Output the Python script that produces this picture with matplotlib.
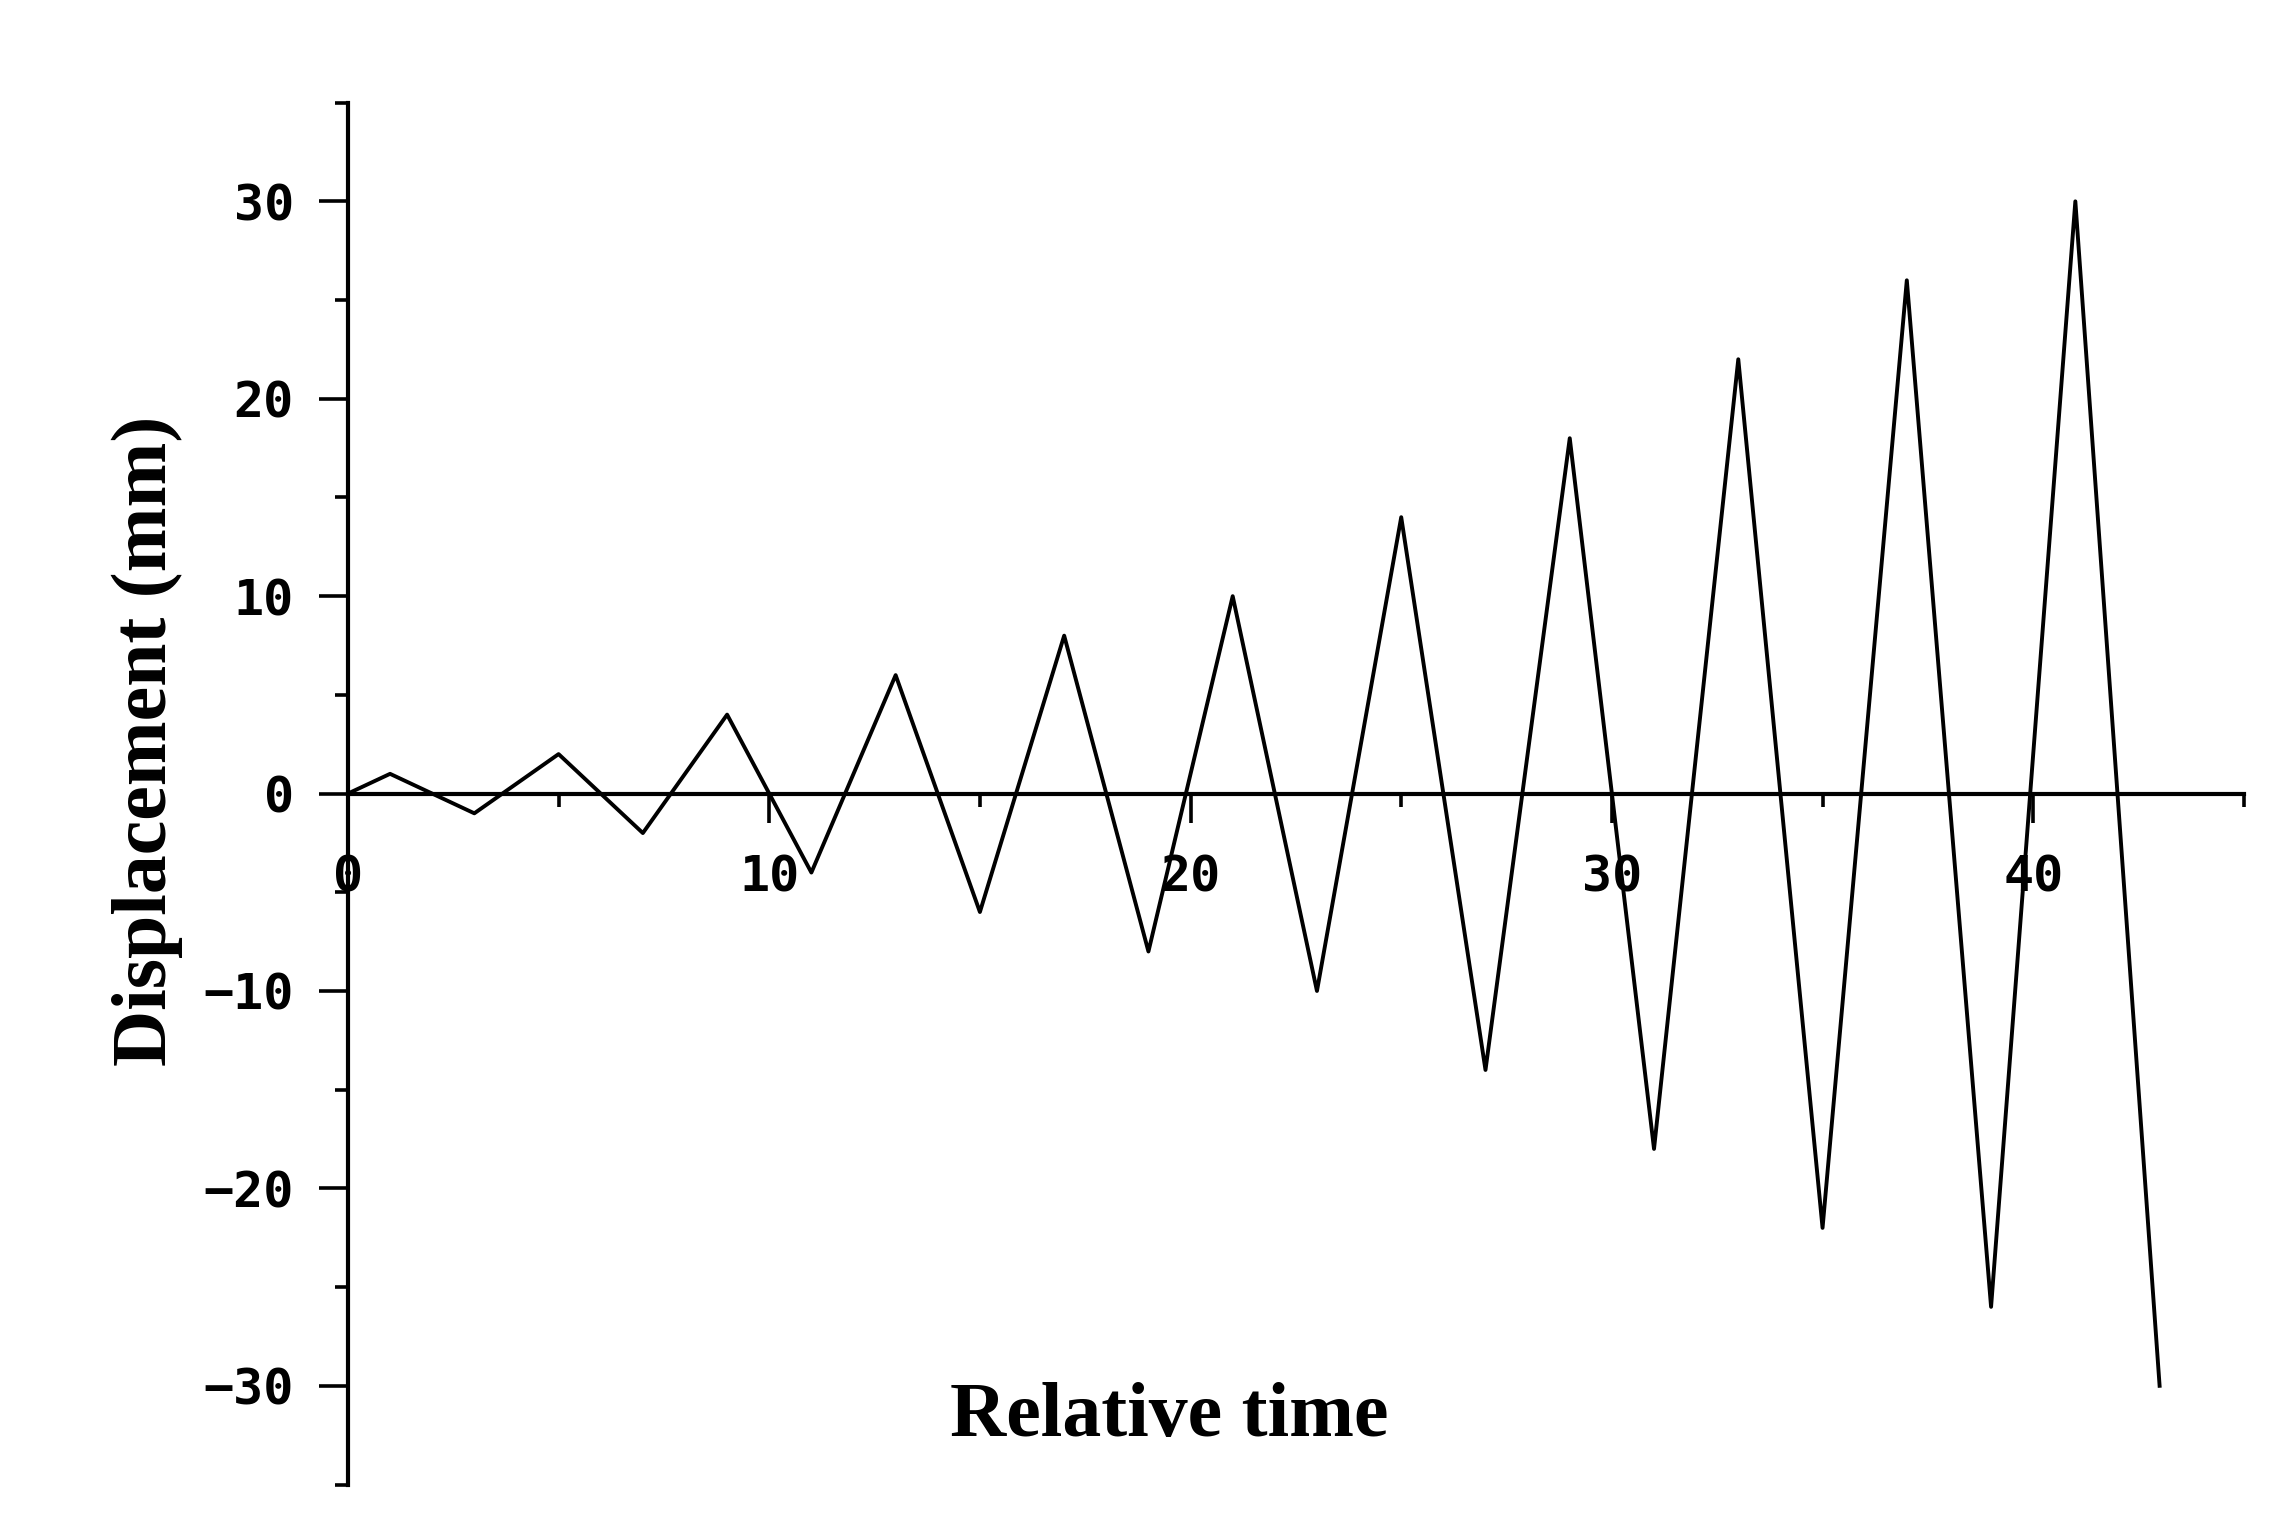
import numpy as np
import matplotlib
matplotlib.use('Agg')
import matplotlib.pyplot as plt
from matplotlib.ticker import MultipleLocator

# turning points of the loading history (relative time, displacement in mm)
time = [0, 1, 3, 5, 7, 9, 11, 13, 15, 17, 19, 21, 23, 25, 27, 29, 31, 33, 35, 37, 39, 41, 43]
disp = [0, 1, -1, 2, -2, 4, -4, 6, -6, 8, -8, 10, -10, 14, -14, 18, -18, 22, -22, 26, -26, 30, -30]

xticks = [0, 10, 20, 30, 40]
yticks = [-30, -20, -10, 0, 10, 20, 30]

fig = plt.figure(figsize=(22.92, 15.32), dpi=100)
ax = fig.add_axes([0.1518, 0.031, 0.8272, 0.902])

ax.plot(time, disp, color='black', linewidth=2.8)

ax.set_xlim(0, 45)
ax.set_ylim(-35, 35)

# axis lines like the original: x axis through zero, no box
ax.spines['top'].set_visible(False)
ax.spines['right'].set_visible(False)
ax.spines['bottom'].set_position(('data', 0))
ax.spines['left'].set_linewidth(3)
ax.spines['bottom'].set_linewidth(3)

ax.set_xticks(xticks)
ax.set_yticks(yticks)
ax.xaxis.set_minor_locator(MultipleLocator(5))
ax.yaxis.set_minor_locator(MultipleLocator(5))
ax.tick_params(axis='both', which='major', direction='out', length=21, width=2.6)
ax.tick_params(axis='both', which='minor', direction='out', length=9.5, width=2.6)
ax.tick_params(axis='x', which='major', pad=22)
ax.tick_params(axis='y', which='major', pad=18)

for lab in ax.get_xticklabels() + ax.get_yticklabels():
    lab.set_fontfamily('DejaVu Sans Mono')
    lab.set_fontsize(36)
    lab.set_fontweight('bold')

ax.set_xlabel('Relative time', fontfamily='Liberation Serif', fontweight='bold', fontsize=56)
ax.set_ylabel('Displacement (mm)', fontfamily='Liberation Serif', fontweight='bold', fontsize=56)
ax.xaxis.set_label_coords(0.433, 0.074)
ax.yaxis.set_label_coords(-0.087, 0.538)

fig.savefig('out.png', dpi=100)
